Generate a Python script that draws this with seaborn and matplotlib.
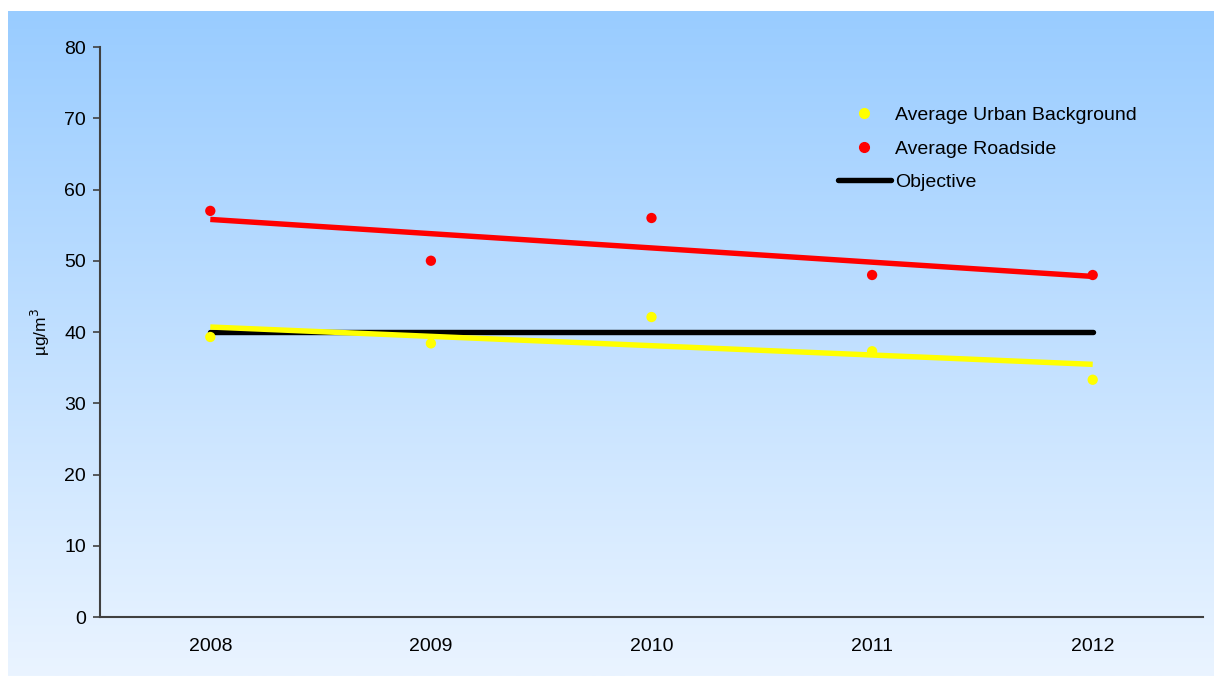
import numpy as np
import pandas as pd
import matplotlib
matplotlib.use("Agg")
import matplotlib.pyplot as plt
from matplotlib.lines import Line2D
from matplotlib.colors import LinearSegmentedColormap
import seaborn as sns

years = ["2008", "2009", "2010", "2011", "2012"]
urban_background = [39.3, 38.4, 42.1, 37.3, 33.3]
roadside = [57, 50, 56, 48, 48]
objective = [40, 40, 40, 40, 40]
y_ticks = [0, 10, 20, 30, 40, 50, 60, 70, 80]

sns.set_theme(style="white")
plt.rcParams["font.family"] = ["Liberation Sans", "DejaVu Sans"]
plt.rcParams["text.color"] = "black"
plt.rcParams["xtick.color"] = "black"
plt.rcParams["ytick.color"] = "black"
plt.rcParams["axes.labelcolor"] = "black"

df = pd.DataFrame({
    "idx": np.arange(len(years)),
    "year": years,
    "urban": urban_background,
    "roadside": roadside,
    "objective": objective,
})

fig = plt.figure(figsize=(12.14, 6.76), dpi=100)
fig.patch.set_facecolor("white")

bg = fig.add_axes([8 / 1214, 0, 1 - 8 / 1214, 1 - 11 / 676], zorder=0)
cmap = LinearSegmentedColormap.from_list("bg", ["#99CCFF", "#EAF4FF"])
grad = np.linspace(0, 1, 256).reshape(-1, 1)
bg.imshow(grad, aspect="auto", cmap=cmap, extent=[0, 1, 0, 1], origin="upper")
bg.set_axis_off()

ax = fig.add_axes([100 / 1214, 1 - 617 / 676, 1103 / 1214, 570 / 676], zorder=1)
ax.patch.set_alpha(0)

LW = 3.9
sns.regplot(data=df, x="idx", y="roadside", scatter=False, ci=None, ax=ax,
            line_kws=dict(color="#FF0000", lw=LW, solid_capstyle="butt"))
sns.regplot(data=df, x="idx", y="urban", scatter=False, ci=None, ax=ax,
            line_kws=dict(color="#FFFF00", lw=LW, solid_capstyle="butt", zorder=3))
sns.lineplot(data=df, x="idx", y="objective", ax=ax, color="black", lw=LW, zorder=2,
             legend=False)
sns.scatterplot(data=df, x="idx", y="urban", ax=ax, color="#FFFF00", s=55,
                edgecolor="none", zorder=4, legend=False)
sns.scatterplot(data=df, x="idx", y="roadside", ax=ax, color="#FF0000", s=55,
                edgecolor="none", zorder=4, legend=False)

ax.set_xlim(-0.5, len(years) - 0.5)
ax.set_ylim(0, 80)
ax.set_yticks(y_ticks)
ax.set_yticklabels([str(v) for v in y_ticks], fontsize=14)
ax.set_xticks(np.arange(len(years)))
ax.set_xticklabels(years, fontsize=14)
ax.set_xticks(np.arange(len(years) + 1) - 0.5, minor=True)
ax.tick_params(axis="x", which="major", length=0, pad=15)
ax.tick_params(axis="x", which="minor", length=5, width=1.2, color="#404040", direction="out")
ax.tick_params(axis="y", length=5, width=1.2, color="#404040", labelcolor="black",
               direction="out", pad=5, left=True)
ax.set_xlabel("")
ax.set_ylabel("µg/m$^3$", fontsize=12.5, labelpad=9)

for s in ["top", "right"]:
    ax.spines[s].set_visible(False)
for s in ["left", "bottom"]:
    ax.spines[s].set_color("#404040")
    ax.spines[s].set_linewidth(1.5)

handles = [
    Line2D([], [], ls="none", marker="o", color="#FFFF00", markersize=7),
    Line2D([], [], ls="none", marker="o", color="#FF0000", markersize=7),
    Line2D([], [], color="black", lw=LW),
]
labels = ["Average Urban Background", "Average Roadside", "Objective"]
ax.legend(handles, labels, loc="upper left",
          bbox_to_anchor=((820.5 - 100) / 1103, (617 - 89) / 570),
          frameon=False, fontsize=14, handlelength=2.7, handletextpad=0.25,
          labelspacing=0.82)

fig.savefig("out.png", dpi=100)
